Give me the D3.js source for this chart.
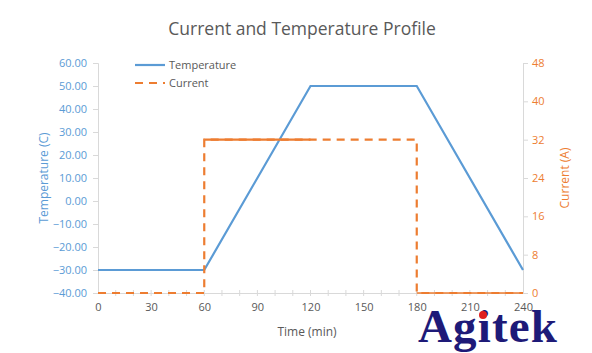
<!DOCTYPE html>
<html>
<head>
<meta charset="utf-8">
<script src="https://cdn.jsdelivr.net/npm/d3@7"></script>
<style>
  body { margin: 0; background: #fff; }
  svg text { font-family: "Open Sans", "Noto Sans", sans-serif; }
</style>
</head>
<body>
<div id="chart"></div>
<script>
// data
const timePoints = [0, 60, 120, 180, 240];
const temperature = [-30, -30, 50, 50, -30];
const currentTime = [0, 60, 60, 180, 180, 240];
const currentValues = [0, 0, 32, 32, 0, 0];
// parts of the current line that Excel drew solid
const currentSolidSpans = [[60, 120], [180, 240]];
const tempTicks = [-40, -30, -20, -10, 0, 10, 20, 30, 40, 50, 60];
const currentTicks = [0, 8, 16, 24, 32, 40, 48];
const timeTicks = [0, 30, 60, 90, 120, 150, 180, 210, 240];

const width = 592, height = 353;
const plotLeft = 98, plotRight = 523, plotTop = 63, plotBottom = 293;
const blue = "#5B9BD5", orange = "#ED7D31", grey = "#595959", axisGrey = "#d9d9d9";

const svg = d3.select("#chart").append("svg")
  .attr("width", width).attr("height", height);

const x = d3.scaleLinear().domain([0, 240]).range([plotLeft, plotRight]);
const y = d3.scaleLinear().domain([-40, 60]).range([plotBottom, plotTop]);
const y2 = d3.scaleLinear().domain([0, 48]).range([plotBottom, plotTop]);

// title
svg.append("text")
  .attr("x", 302).attr("y", 35)
  .attr("text-anchor", "middle")
  .style("font-size", "17.5px")
  .attr("fill", grey)
  .text("Current and Temperature Profile");

// left axis
const gl = svg.append("g")
  .attr("transform", `translate(${plotLeft},0)`)
  .call(d3.axisLeft(y).tickValues(tempTicks).tickFormat(d3.format(".2f")).tickSize(5).tickPadding(6));
gl.selectAll("path, line").attr("stroke", axisGrey);
gl.selectAll("text").attr("fill", blue).style("font-size", "11px")
  .style("font-family", "'Open Sans', sans-serif");

// right axis
const gr = svg.append("g")
  .attr("transform", `translate(${plotRight},0)`)
  .call(d3.axisRight(y2).tickValues(currentTicks).tickSize(5).tickPadding(4));
gr.selectAll("path, line").attr("stroke", axisGrey);
gr.selectAll("text").attr("fill", orange).style("font-size", "11px")
  .style("font-family", "'Open Sans', sans-serif");

// bottom axis: labels every 30, minor ticks every 10 crossing the line
const gb = svg.append("g")
  .attr("transform", `translate(0,${plotBottom})`)
  .call(d3.axisBottom(x).tickValues(timeTicks).tickSize(0).tickPadding(10));
gb.select(".domain").attr("stroke", axisGrey);
gb.selectAll("text").attr("fill", grey).style("font-size", "11px")
  .style("font-family", "'Open Sans', sans-serif");
svg.append("g").selectAll("line")
  .data(d3.range(10, 240, 10))
  .join("line")
  .attr("x1", (d) => x(d)).attr("x2", (d) => x(d))
  .attr("y1", plotBottom - 3).attr("y2", plotBottom + 3)
  .attr("stroke", axisGrey);

// axis titles
svg.append("text")
  .attr("transform", `translate(48,${(plotTop + plotBottom) / 2}) rotate(-90)`)
  .attr("text-anchor", "middle")
  .style("font-size", "12px")
  .attr("fill", blue)
  .text("Temperature (C)");

svg.append("text")
  .attr("transform", `translate(569,${(plotTop + plotBottom) / 2}) rotate(-90)`)
  .attr("text-anchor", "middle")
  .style("font-size", "12px")
  .attr("fill", orange)
  .text("Current (A)");

svg.append("text")
  .attr("x", 307).attr("y", 336)
  .attr("text-anchor", "middle")
  .style("font-size", "12px")
  .attr("fill", grey)
  .text("Time (min)");

// temperature line
const tempData = timePoints.map((t, i) => ({ t, v: temperature[i] }));
svg.append("path")
  .datum(tempData)
  .attr("fill", "none")
  .attr("stroke", blue)
  .attr("stroke-width", 2.2)
  .attr("d", d3.line().x((d) => x(d.t)).y((d) => y(d.v)));

// current line
const currentData = currentTime.map((t, i) => ({ t, v: currentValues[i] }));
const currentLine = d3.line().x((d) => x(d.t)).y((d) => y2(d.v));
svg.append("path")
  .datum(currentData)
  .attr("fill", "none")
  .attr("stroke", orange)
  .attr("stroke-width", 2.2)
  .attr("stroke-dasharray", "8,6")
  .attr("d", currentLine);

currentSolidSpans.forEach(([a, b]) => {
  const level = currentValues[currentTime.lastIndexOf(a)];
  svg.append("path")
    .datum([{ t: a, v: level }, { t: b, v: level }])
    .attr("fill", "none")
    .attr("stroke", orange)
    .attr("stroke-width", level === 0 ? 1.5 : 2.2)
    .attr("d", currentLine);
});

// legend
const legend = [
  { name: "Temperature", color: blue, dash: null },
  { name: "Current", color: orange, dash: "8,6" },
];
const lg = svg.append("g").attr("transform", "translate(135,65)");
legend.forEach((d, i) => {
  lg.append("line")
    .attr("x1", 0).attr("x2", 30)
    .attr("y1", i * 18).attr("y2", i * 18)
    .attr("stroke", d.color)
    .attr("stroke-width", 2.2)
    .attr("stroke-dasharray", d.dash);
  lg.append("text")
    .attr("x", 34).attr("y", i * 18 + 4)
    .style("font-size", "11px")
    .attr("fill", grey)
    .text(d.name);
});

// watermark
svg.append("text")
  .attr("x", 418).attr("y", 342)
  .attr("textLength", 139)
  .style("font-family", "'Liberation Serif', 'DejaVu Serif', serif")
  .style("font-size", "47px")
  .style("font-weight", "bold")
  .attr("fill", "#1e1a78")
  .text("Agitek");
svg.append("circle")
  .attr("cx", 483).attr("cy", 315).attr("r", 4)
  .attr("fill", "#e02020");
</script>
</body>
</html>
